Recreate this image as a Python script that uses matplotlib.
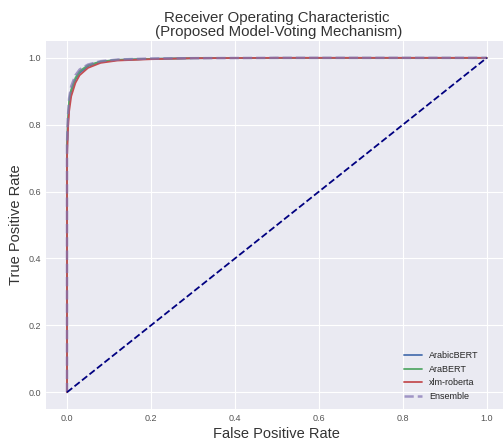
import matplotlib
matplotlib.use("Agg")
import matplotlib.pyplot as plt

plt.style.use("seaborn-v0_8-darkgrid")
plt.rcParams['font.family'] = ['Liberation Sans', 'DejaVu Sans']

# Courbes ROC
fpr_arabicbert = [0.0, 0.0, 0.002, 0.005, 0.01, 0.02, 0.03, 0.05, 0.08, 0.12, 0.2, 0.3, 0.5, 1.0]
tpr_arabicbert = [0.0, 0.72, 0.80, 0.86, 0.90, 0.935, 0.955, 0.975, 0.988, 0.994, 0.997, 0.999, 1.0, 1.0]

fpr_arabert = [0.0, 0.0, 0.002, 0.005, 0.01, 0.02, 0.03, 0.05, 0.08, 0.12, 0.2, 0.3, 0.5, 1.0]
tpr_arabert = [0.0, 0.73, 0.81, 0.87, 0.905, 0.94, 0.96, 0.978, 0.989, 0.994, 0.997, 0.999, 1.0, 1.0]

fpr_xlm = [0.0, 0.0, 0.002, 0.005, 0.01, 0.02, 0.03, 0.05, 0.08, 0.12, 0.2, 0.3, 0.5, 1.0]
tpr_xlm = [0.0, 0.70, 0.78, 0.84, 0.885, 0.925, 0.948, 0.97, 0.985, 0.992, 0.996, 0.999, 1.0, 1.0]

fpr_ensemble = [0.0, 0.0, 0.002, 0.005, 0.01, 0.02, 0.03, 0.05, 0.08, 0.12, 0.2, 0.3, 0.5, 1.0]
tpr_ensemble = [0.0, 0.74, 0.82, 0.88, 0.915, 0.948, 0.965, 0.98, 0.99, 0.995, 0.998, 0.999, 1.0, 1.0]

diag = [0.0, 1.0]

fig = plt.figure(figsize=(5.03, 4.4), dpi=100)
ax = fig.add_axes([0.0915, 0.0705, 0.918, 0.836])

ax.plot(fpr_arabicbert, tpr_arabicbert, color='#4C72B0', lw=1.3, label='ArabicBERT')
ax.plot(fpr_arabert, tpr_arabert, color='#55A868', lw=1.3, label='AraBERT')
ax.plot(fpr_xlm, tpr_xlm, color='#C44E52', lw=1.3, label='xlm-roberta')
ax.plot(fpr_ensemble, tpr_ensemble, color='#8172B2', lw=1.8, ls='--', alpha=0.7, label='Ensemble')
ax.plot(diag, diag, color='navy', lw=1.3, ls='--')

ax.set_xlim(-0.05, 1.05)
ax.set_ylim(-0.05, 1.05)
ax.tick_params(labelsize=6.5, colors='#555555')
ax.set_xlabel('False Positive Rate', fontsize=10.5, color='#333333', labelpad=3)
ax.set_ylabel('True Positive Rate', fontsize=10.5, color='#333333', labelpad=4)
ax.set_title('Receiver Operating Characteristic\n (Proposed Model-Voting Mechanism)',
             fontsize=10.8, color='#333333', linespacing=1.0, pad=4)
ax.legend(loc='lower right', fontsize=6.5, bbox_to_anchor=(0.955, 0.0))

fig.savefig('out.png', dpi=100)
